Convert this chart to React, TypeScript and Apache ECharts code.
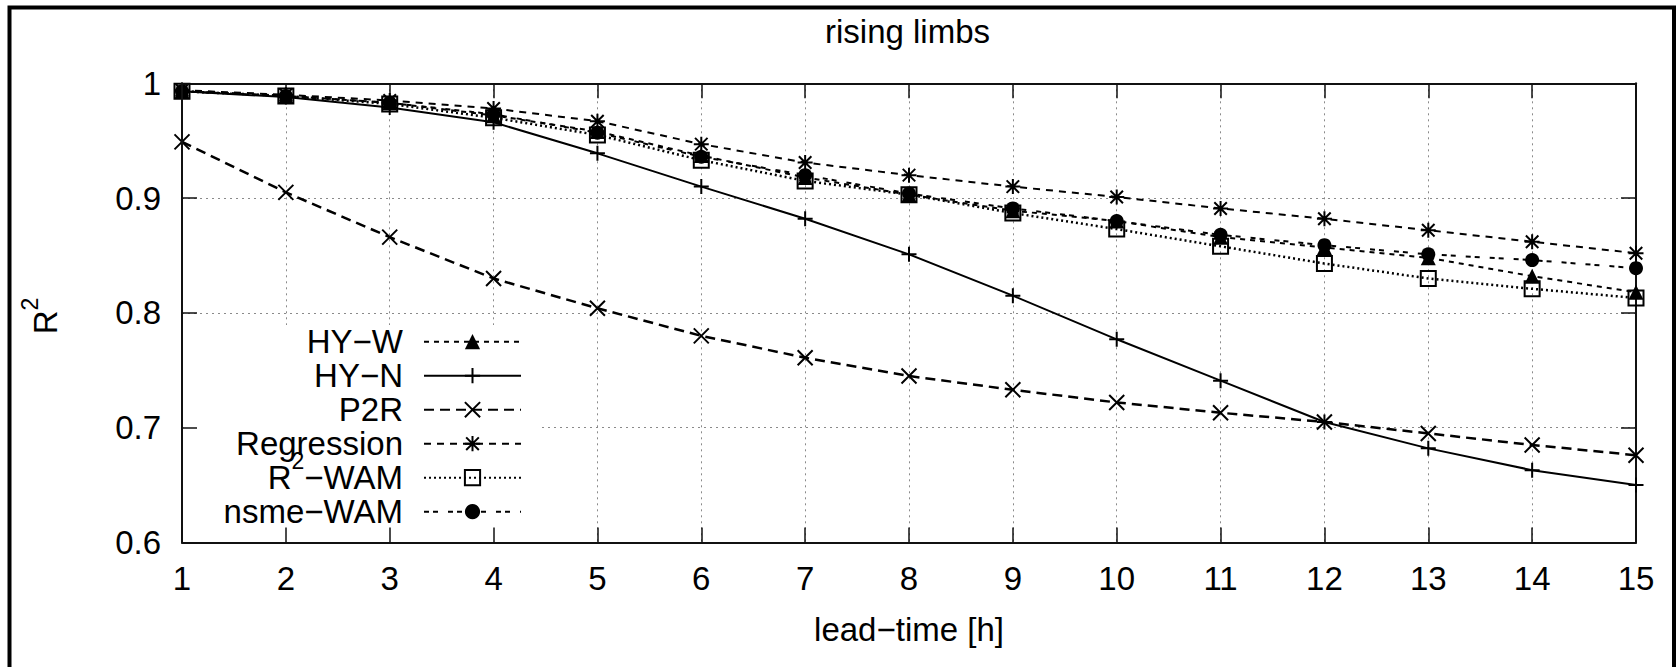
import React, { useEffect, useRef } from "react";
import * as echarts from "echarts";

// ---- data ----
const leadTimes = [1, 2, 3, 4, 5, 6, 7, 8, 9, 10, 11, 12, 13, 14, 15];
const hyW = [0.993, 0.989, 0.983, 0.972, 0.958, 0.937, 0.918, 0.903, 0.889, 0.880, 0.866, 0.857, 0.848, 0.832, 0.818];
const hyN = [0.993, 0.988, 0.979, 0.966, 0.939, 0.910, 0.882, 0.851, 0.815, 0.777, 0.741, 0.705, 0.682, 0.663, 0.650];
const p2r = [0.949, 0.905, 0.866, 0.830, 0.804, 0.780, 0.761, 0.745, 0.733, 0.722, 0.713, 0.705, 0.695, 0.685, 0.676];
const regression = [0.994, 0.990, 0.985, 0.978, 0.967, 0.947, 0.931, 0.920, 0.910, 0.901, 0.891, 0.882, 0.872, 0.862, 0.852];
const r2Wam = [0.993, 0.989, 0.982, 0.970, 0.955, 0.933, 0.915, 0.903, 0.887, 0.873, 0.858, 0.843, 0.830, 0.821, 0.813];
const nsmeWam = [0.993, 0.989, 0.983, 0.973, 0.957, 0.936, 0.920, 0.904, 0.891, 0.880, 0.868, 0.859, 0.851, 0.846, 0.839];
const seriesNames = ["HY−W", "HY−N", "P2R", "Regression", "R2−WAM", "nsme−WAM"];
const titleText = "rising limbs";
const xAxisTitle = "lead−time [h]";

const FONT = '"Liberation Sans", Arial, Helvetica, sans-serif';

const PLUS = "path://M0,5L10,5M5,0L5,10";
const CROSS = "path://M0,0L10,10M10,0L0,10";
const STAR = "path://M0,0L10,10M10,0L0,10M5,-1L5,11M-1,5L11,5";
const SQUARE = "path://M0,0L10,0L10,10L0,10Z";

export default function App() {
  const ref = useRef<HTMLDivElement>(null);

  useEffect(() => {
    const chart = echarts.init(ref.current as HTMLDivElement, null, { renderer: "svg" });
    const toPairs = (vals: number[]) => leadTimes.map((x, i) => [x, vals[i]]);

    const stroked = { color: "none", borderColor: "#000", borderWidth: 2 };
    const filled = { color: "#000", borderColor: "#000", borderWidth: 0 };

    const mk = (name: string, vals: number[], symbol: string, size: number, lineStyle: any, itemStyle: any) => ({
      name,
      type: "line",
      data: toPairs(vals),
      symbol,
      symbolSize: size,
      showAllSymbol: true,
      lineStyle: { color: "#000", width: 2, ...lineStyle },
      itemStyle,
      emphasis: { disabled: true },
      z: 3,
    });

    const axisLine = { show: true, onZero: false, lineStyle: { color: "#111", width: 2 } };
    const axisTick = { show: true, inside: true, length: 15, lineStyle: { color: "#111", width: 1.5 } };
    const gridLine = { show: true, lineStyle: { color: "#8a8a8a", width: 1, type: [2, 4] } };
    const labelStyle = { color: "#000", fontSize: 33, fontFamily: FONT, lineHeight: 33 };

    const legendText = {
      color: "#000",
      fontSize: 33,
      fontFamily: FONT,
      lineHeight: 34,
      width: 190,
      align: "right",
      padding: [0, 16, 0, 0],
      rich: {
        sup: { fontSize: 23, lineHeight: 1, height: 1, verticalAlign: "top", fontFamily: FONT, color: "#000" },
      },
    };
    const legendBase = {
      orient: "vertical",
      align: "right",
      left: 184,
      itemGap: 0,
      itemWidth: 97,
      itemHeight: 19,
      selectedMode: false,
      z: 6,
      formatter: (n: string) => (n === "R2−WAM" ? "R{sup|2}−WAM" : n),
      textStyle: legendText,
    };

    chart.setOption({
      animation: false,
      backgroundColor: "#fff",
      textStyle: { fontFamily: FONT },
      title: {
        text: titleText,
        left: 825,
        top: 15,
        padding: 0,
        textStyle: { fontSize: 33, fontWeight: "normal", fontFamily: FONT, color: "#000", lineHeight: 33 },
      },
      grid: { left: 182, right: 40, top: 83.3, bottom: 124.5, containLabel: false },
      xAxis: [
        {
          type: "value",
          min: 1,
          max: 15,
          interval: 1,
          position: "bottom",
          z: 4,
          axisLine,
          axisTick,
          axisLabel: { ...labelStyle, margin: 19 },
          splitLine: { show: false },
          name: xAxisTitle,
          nameLocation: "middle",
          nameGap: 70,
          nameTextStyle: { ...labelStyle },
        },
        {
          type: "value",
          min: 1,
          max: 15,
          interval: 1,
          position: "top",
          z: 0,
          axisLine,
          axisTick,
          axisLabel: { show: false },
          splitLine: gridLine,
        },
      ],
      yAxis: [
        {
          type: "value",
          min: 0.6,
          max: 1,
          interval: 0.1,
          position: "left",
          z: 4,
          axisLine,
          axisTick,
          axisLabel: { ...labelStyle, margin: 21 },
          splitLine: { show: false },
        },
        {
          type: "value",
          min: 0.6,
          max: 1,
          interval: 0.1,
          position: "right",
          z: 0,
          axisLine,
          axisTick,
          axisLabel: { show: false },
          splitLine: gridLine,
        },
      ],
      legend: [
        { ...legendBase, top: 324.7, padding: [0, 19, 0, 29], data: seriesNames.slice(0, 4) },
        { ...legendBase, top: 449.7, padding: [0, 19, 0, 29], data: seriesNames.slice(4) },
      ],
      series: [
        mk(seriesNames[0], hyW, "triangle", 15, { type: [5, 5] }, filled),
        mk(seriesNames[1], hyN, PLUS, 15, { type: "solid" }, stroked),
        mk(seriesNames[2], p2r, CROSS, 15, { type: [10, 6], width: 2.5 }, stroked),
        mk(seriesNames[3], regression, STAR, 15, { type: [7, 6] }, stroked),
        mk(seriesNames[4], r2Wam, SQUARE, 15, { type: [2, 3], width: 2.5 }, stroked),
        mk(seriesNames[5], nsmeWam, "circle", 14, { type: [5, 4, 5, 10] }, filled),
      ],
      graphic: [
        {
          type: "rect",
          silent: true,
          z: 1,
          shape: { x: 183.5, y: 325, width: 356.5, height: 216.5 },
          style: { fill: "#fff", stroke: "none" },
        },
        {
          type: "rect",
          silent: true,
          z: 100,
          shape: { x: 9.5, y: 7.5, width: 1664.5, height: 700 },
          style: { fill: "none", stroke: "#000", lineWidth: 4 },
        },
        {
          type: "text",
          silent: true,
          x: 45.6,
          y: 316,
          rotation: Math.PI / 2,
          style: {
            text: "R{sup|2}",
            fontSize: 33,
            fontFamily: FONT,
            fill: "#000",
            align: "center",
            verticalAlign: "middle",
            lineHeight: 33,
            rich: {
              sup: { fontSize: 23, lineHeight: 1, height: 1, verticalAlign: "top", fontFamily: FONT, fill: "#000" },
            },
          },
        },
      ],
    });

    return () => chart.dispose();
  }, []);

  return (
    <div
      ref={ref}
      style={{ position: "absolute", left: 0, top: 0, width: 1676, height: 667 }}
    />
  );
}
